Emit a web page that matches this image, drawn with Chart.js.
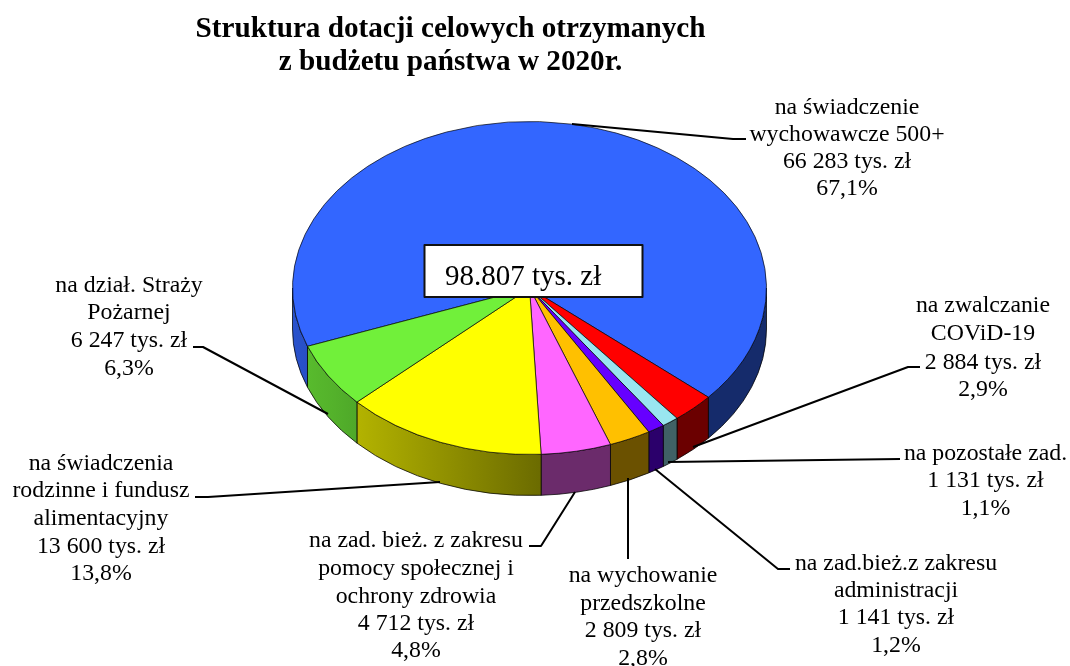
<!DOCTYPE html>
<html lang="pl"><head><meta charset="utf-8">
<style>html,body{margin:0;padding:0;background:#fff}canvas{display:block}</style>
<script src="https://cdn.jsdelivr.net/npm/chart.js@4/dist/chart.umd.min.js"></script>
</head><body>
<canvas id="c" width="1070" height="666"></canvas>
<script>
const titleLines = ['Struktura dotacji celowych otrzymanych', 'z budżetu państwa w 2020r.'];
const totalLabel = '98.807 tys. zł';
const categories = [
  ['na świadczenie', 'wychowawcze 500+'],
  ['na zwalczanie', 'COViD-19'],
  ['na pozostałe zad.'],
  ['na zad.bież.z zakresu', 'administracji'],
  ['na wychowanie', 'przedszkolne'],
  ['na zad. bież. z zakresu', 'pomocy społecznej i', 'ochrony zdrowia'],
  ['na świadczenia', 'rodzinne i fundusz', 'alimentacyjny'],
  ['na dział. Straży', 'Pożarnej']
];
const values = [66283, 2884, 1131, 1141, 2809, 4712, 13600, 6247];
const amountLabels = ['66 283 tys. zł', '2 884 tys. zł', '1 131 tys. zł', '1 141 tys. zł', '2 809 tys. zł', '4 712 tys. zł', '13 600 tys. zł', '6 247 tys. zł'];
const percentLabels = ['67,1%', '2,9%', '1,1%', '1,2%', '2,8%', '4,8%', '13,8%', '6,3%'];
const colors = ['#3366ff', '#ff0000', '#99e6f0', '#6600ff', '#ffc000', '#ff66ff', '#ffff00', '#71f03a'];

// layout of annotations (page pixels)
const labelBoxes = [
  {x: 847, y: [107, 134, 161, 188]},
  {x: 983, y: [305, 333, 362, 389]},
  {x: 985.5, y: [453, 480, 508]},
  {x: 896, y: [563, 590, 617, 645]},
  {x: 643, y: [575, 603, 630, 658]},
  {x: 416, y: [540, 568, 596, 623, 650]},
  {x: 101, y: [463, 490, 518, 546, 573]},
  {x: 129, y: [285, 312, 340, 368]}
];
const leaders = [
  [[572,124],[733,139],[746,139]],
  [[693,447],[908,367],[920,367]],
  [[668,462],[900,459]],
  [[655,469],[778,569],[790,569]],
  [[628,478],[628,559]],
  [[575,492],[541,546],[529,546]],
  [[440,482],[208,497],[195,497]],
  [[328,414],[203,347],[193,347]]
];
const CY = 288, SQUASH = 166.5 / 237, DEPTH = 41;
const SERIF = '"Liberation Serif", "Times New Roman", serif';

function shade(hex, f) {
  const n = parseInt(hex.slice(1), 16);
  return `rgb(${Math.round((n>>16&255)*f)},${Math.round((n>>8&255)*f)},${Math.round((n&255)*f)})`;
}
function factorAt(x) {
  if (x <= 293) return 0.8;
  if (x >= 540) return 0.42;
  return 0.8 + (x - 293) / 247 * (0.42 - 0.8);
}

const pie3d = {
  id: 'pie3d',
  beforeDatasetsDraw(chart) {
    const ctx = chart.ctx;
    const arcs = chart.getDatasetMeta(0).data;
    arcs.forEach((arc, i) => {
      const p = arc.getProps(['x', 'startAngle', 'endAngle', 'outerRadius'], true);
      const R = p.outerRadius, ry = R * SQUASH;
      // portions of the slice on the front half of the ellipse
      [0, 2 * Math.PI, 4 * Math.PI].forEach(off => {
        const a0 = Math.max(p.startAngle, off), a1 = Math.min(p.endAngle, off + Math.PI);
        if (a1 <= a0) return;
        const xs = [a0, a1].map(a => p.x + R * Math.cos(a));
        const xL = Math.min(...xs);
        const xR = Math.max(...xs);
        const g = ctx.createLinearGradient(xL, 0, xR, 0);
        for (let s = 0; s <= 4; s++) {
          g.addColorStop(s / 4, shade(colors[i], factorAt(xL + (xR - xL) * s / 4)));
        }
        ctx.beginPath();
        ctx.ellipse(p.x, CY, R, ry, 0, a0, a1);
        ctx.ellipse(p.x, CY + DEPTH, R, ry, 0, a1, a0, true);
        ctx.closePath();
        ctx.fillStyle = g;
        ctx.fill();
        ctx.lineWidth = 1;
        ctx.strokeStyle = 'rgba(0,0,0,0.75)';
        ctx.stroke();
      });
    });
    const y0 = arcs[0].y;
    ctx.save();
    ctx.translate(0, CY);
    ctx.scale(1, SQUASH);
    ctx.translate(0, -y0);
  },
  afterDatasetsDraw(chart) {
    const ctx = chart.ctx;
    ctx.restore();
    // leader lines
    ctx.strokeStyle = '#000';
    ctx.lineWidth = 2;
    ctx.lineJoin = 'round';
    leaders.forEach(path => {
      ctx.beginPath();
      path.forEach((pt, i) => i ? ctx.lineTo(pt[0], pt[1]) : ctx.moveTo(pt[0], pt[1]));
      ctx.stroke();
    });
    // centre box
    ctx.fillStyle = '#fff';
    ctx.fillRect(424.5, 245, 218, 52);
    ctx.strokeStyle = '#111';
    ctx.lineWidth = 2;
    ctx.strokeRect(424.5, 245, 218, 52);
    ctx.fillStyle = '#000';
    ctx.textBaseline = 'alphabetic';
    ctx.textAlign = 'left';
    ctx.font = `29px ${SERIF}`;
    ctx.fillText(totalLabel, 445, 285);
    // title
    ctx.textAlign = 'center';
    ctx.font = `bold 29.2px ${SERIF}`;
    titleLines.forEach((t, i) => ctx.fillText(t, 450.5, 37 + i * 33));
    // labels
    ctx.font = `23.8px ${SERIF}`;
    categories.forEach((cat, i) => {
      const lines = cat.concat(amountLabels[i], percentLabels[i]);
      lines.forEach((t, j) => ctx.fillText(t, labelBoxes[i].x, labelBoxes[i].y[j] + 7));
    });
  }
};

new Chart(document.getElementById('c'), {
  type: 'pie',
  data: {
    labels: categories.map(c => c.join(' ')),
    datasets: [{
      data: values,
      backgroundColor: colors,
      borderColor: 'rgba(0,0,0,0.8)',
      borderWidth: 1,
      clip: false
    }]
  },
  options: {
    responsive: false,
    animation: false,
    rotation: 249.5,
    layout: {padding: {left: 292, right: 303, top: 96, bottom: 95}},
    plugins: {legend: {display: false}, tooltip: {enabled: false}, title: {display: false}}
  },
  plugins: [pie3d]
});
</script>
</body></html>
